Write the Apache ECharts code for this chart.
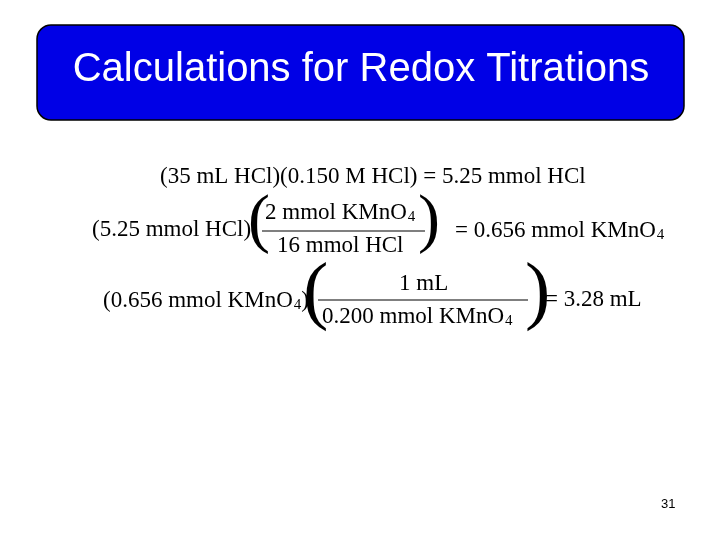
<!DOCTYPE html>
<html><head><meta charset="utf-8">
<script src="https://cdn.jsdelivr.net/npm/echarts@6/dist/echarts.min.js"></script>
<style>html,body{margin:0;background:#fff}#main{width:720px;height:540px}</style>
</head><body><div id="main"></div>
<script>
var titleText = 'Calculations for Redox Titrations';
var pageNumber = '31';
// equation pieces: {s|..} marks a subscript
var line1 = ['(35 mL HCl)(0.150 M HCl) = 5.25 mmol HCl'];
var line2 = ['(5.25 mmol HCl)', '2 mmol KMnO{s|4}', '16 mmol HCl', '= 0.656 mmol KMnO{s|4}'];
var line3 = ['(0.656 mmol KMnO{s|4})', '1 mL', '0.200 mmol KMnO{s|4}', '= 3.28 mL'];

var chart = echarts.init(document.getElementById('main'));
var serif = '"Liberation Serif", "DejaVu Serif", serif';
function rich(s) {
  return '{a|' + s.replace(/\{s\|(\w+)\}/g, '}{s|$1}{a|') + '}';
}
var richStyle = {
  a: { fontFamily: serif, fontSize: 23, fill: '#000', lineHeight: 26 },
  s: { fontFamily: serif, fontSize: 15, fill: '#000', padding: [10, 0, 0, 1], lineHeight: 26 }
};
function eq(x, y, s) {
  return { type: 'text', left: x, top: y, style: { text: rich(s), rich: richStyle } };
}
function paren(x, y, ch, size) {
  return { type: 'text', left: x, top: y, style: { text: ch, fontFamily: serif, fontSize: size, fill: '#000' } };
}
function hline(x1, x2, y) {
  return { type: 'line', shape: { x1: x1, y1: y, x2: x2, y2: y }, style: { stroke: '#000', lineWidth: 1.2 } };
}

chart.setOption({
  graphic: [
    { type: 'rect', shape: { x: 37, y: 25, width: 647, height: 95, r: 14 },
      style: { fill: '#0000e6', stroke: '#000', lineWidth: 1.5 } },
    { type: 'text', x: 361, y: 70, style: { text: titleText, fill: '#fff', fontFamily: 'Liberation Sans, Arial, sans-serif',
      fontSize: 40, align: 'center', verticalAlign: 'middle' } },
    eq(160, 165, line1[0]),
    eq(92, 218, line2[0]),
    paren(248, 190, '(', 66), paren(418, 190, ')', 66),
    eq(265, 200, line2[1]),
    hline(262, 425, 231),
    eq(277, 234, line2[2]),
    eq(455, 218, line2[3]),
    eq(103, 288, line3[0]),
    paren(303, 257, '(', 76), paren(525, 257, ')', 76),
    eq(399, 272, line3[1]),
    hline(318, 528, 300),
    eq(322, 304, line3[2]),
    eq(545, 288, line3[3]),
    { type: 'text', left: 661, top: 498, style: { text: pageNumber, fontFamily: 'Liberation Sans, Arial, sans-serif', fontSize: 13, fill: '#000' } }
  ]
});
</script></body></html>
